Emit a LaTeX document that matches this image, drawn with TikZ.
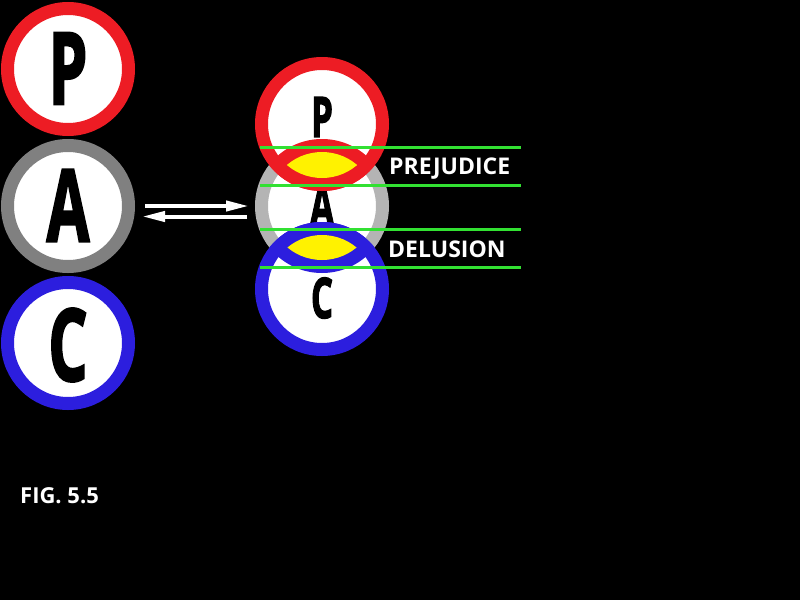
\documentclass[tikz,border=0pt]{standalone}
\usepackage{fontspec}
\setmainfont{Open Sans}
\newfontfamily\heavyfont{Open Sans}[BoldFeatures={FakeBold=2.5}]
\usetikzlibrary{arrows.meta}
\definecolor{ringred}{RGB}{237,28,36}
\definecolor{ringgray}{RGB}{128,128,128}
\definecolor{ringlgray}{RGB}{180,180,180}
\definecolor{ringblue}{RGB}{44,30,222}
\definecolor{lensyellow}{RGB}{255,242,0}
\definecolor{linegreen}{RGB}{50,225,50}
\tikzset{
  ring/.style={circle, draw=#1, line width=13pt, fill=white, inner sep=0pt, minimum size=121pt},
  bigletter/.style={inner sep=0pt, text=black, font=\fontsize{100}{100}\heavyfont\bfseries},
  smallletter/.style={inner sep=0pt, text=black, font=\fontsize{56}{56}\heavyfont\bfseries},
  label/.style={inner sep=0pt, anchor=base west, text=white, font=\fontsize{23}{24}\selectfont\bfseries},
  arr/.style={draw=white, line width=4pt, -{Triangle[length=23pt,width=10pt]}},
  gline/.style={draw=linegreen, line width=3pt}
}
\begin{document}
\begin{tikzpicture}[x=1pt,y=-1pt]
\fill[black] (0,0) rectangle (800,600);
\useasboundingbox (0,0) rectangle (800,600);
% left column
\node[ring=ringred] (P1) at (68,69) {};
\node[ring=ringgray] (A1) at (68,206) {};
\node[ring=ringblue] (C1) at (68,343) {};
\node[bigletter] (P1t) at (68,68.5) {\scalebox{0.62}[1]{P}};
\node[bigletter] (A1t) at (68,205.5) {\scalebox{0.62}[1]{A}};
\node[bigletter] (C1t) at (68,345) {\scalebox{0.62}[1]{C}};
% right column
\node[ring=ringlgray] (A2) at (322,206) {};
\node[smallletter] (A2t) at (322,206) {\scalebox{0.62}[1]{A}};
\node[ring=ringred] (P2) at (322,124) {};
\begin{scope}
  \clip (P2.center) circle[radius=67pt];
  \fill[ringred] (A2.center) circle[radius=67pt];
  \clip (P2.center) circle[radius=54pt];
  \fill[lensyellow] (A2.center) circle[radius=54pt];
\end{scope}
\node[ring=ringblue] (C2) at (322,289) {};
\begin{scope}
  \clip (C2.center) circle[radius=67pt];
  \fill[ringblue] (A2.center) circle[radius=67pt];
  \clip (C2.center) circle[radius=54pt];
  \fill[lensyellow] (A2.center) circle[radius=54pt];
\end{scope}
\node[smallletter] (P2t) at (322,117) {\scalebox{0.62}[1]{P}};
\node[smallletter] (C2t) at (322,298) {\scalebox{0.62}[1]{C}};
% arrows
\draw[arr, shorten <=10pt, shorten >=6pt] (A1.east) -- (A2.west);
\draw[arr, shorten <=8pt, shorten >=7pt] ([yshift=-10.5pt]A2.west) -- ([yshift=-10.5pt]A1.east);
% green lines
\draw[gline] (260,147) -- (521,147);
\draw[gline] (260,185) -- (521,185);
\draw[gline] (260,229) -- (521,229);
\draw[gline] (260,267) -- (521,267);
% labels
\node[label] (prej) at (389,174.5) {PREJUDICE};
\node[label] (delu) at (388,257.5) {DELUSION};
\node[label, font=\fontsize{22}{23}\selectfont\bfseries] (fig) at (20,503.5) {FIG. 5.5};
\end{tikzpicture}
\end{document}
